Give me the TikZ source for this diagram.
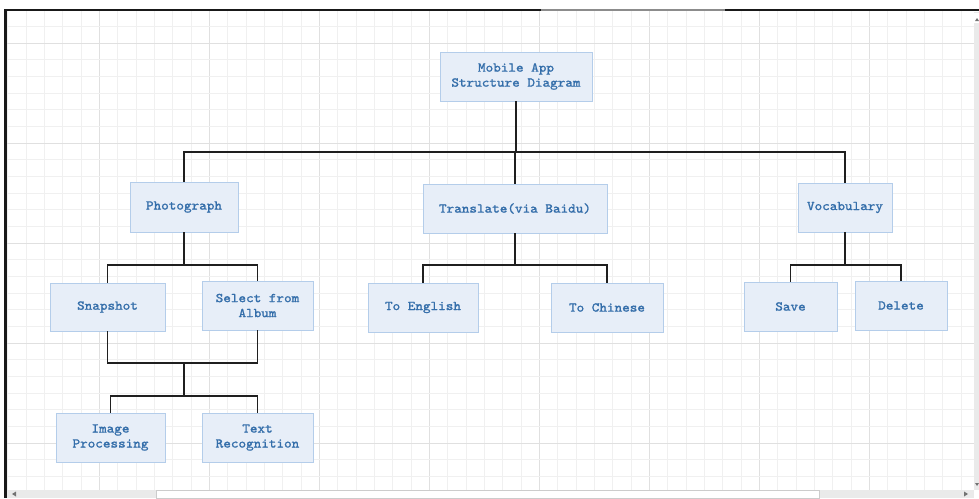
\documentclass[tikz,border=0pt]{standalone}
\usepackage{fontspec}
\newfontfamily\boxfont[FakeBold=1.3,FakeStretch=1.08]{lmmono10-regular.otf}
\definecolor{boxfill}{RGB}{231,238,248}
\definecolor{boxline}{RGB}{180,205,234}
\definecolor{boxtext}{RGB}{52,110,170}
\definecolor{gridminor}{RGB}{240,240,240}
\definecolor{gridmajor}{RGB}{224,224,224}
\definecolor{barfill}{RGB}{234,234,234}
\tikzset{
  box/.style={draw=boxline, fill=boxfill, line width=0.8pt, inner sep=0pt,
    align=center, text=boxtext, font=\boxfont\fontsize{13.4}{15}\selectfont},
  link/.style={draw=black!88, line width=1.3pt}
}
\begin{document}
\begin{tikzpicture}[x=1pt,y=-1pt]
\useasboundingbox (0,0) rectangle (979,498);
\fill[white] (0,0) rectangle (979,498);
% grid
\foreach \i in {0,...,52} {
  \pgfmathsetmacro{\xx}{7.83+\i*18.333}
  \pgfmathtruncatemacro{\mm}{mod(\i,6)}
  \ifnum\mm=5
    \draw[gridmajor, line width=0.9pt] (\xx,10) -- (\xx,490);
  \else
    \draw[gridminor, line width=0.9pt] (\xx,10) -- (\xx,490);
  \fi
}
\foreach \j in {1,...,28} {
  \pgfmathsetmacro{\yy}{9.67+\j*16.667}
  \pgfmathtruncatemacro{\mm}{mod(\j,6)}
  \ifnum\mm=2
    \draw[gridmajor, line width=0.9pt] (6,\yy) -- (974,\yy);
  \else
    \draw[gridminor, line width=0.9pt] (6,\yy) -- (974,\yy);
  \fi
}
% frame and scrollbars
\fill[barfill] (974,12) rectangle (979,490);
\fill[white] (974,13) rectangle (979,23);
\fill[barfill] (7,490) rectangle (974,498);
\fill[white, draw=black!20, line width=0.5pt] (156,490.5) rectangle (819,498);
\fill[black!55] (12,494) -- (16,491.5) -- (16,496.5) -- cycle;
\fill[black!55] (968,494) -- (964,491.5) -- (964,496.5) -- cycle;
\fill[black!55] (977,18) -- (975,21) -- (979,21) -- cycle;
\fill[black!55] (977,486) -- (975,483) -- (979,483) -- cycle;
\draw[black!90, line width=2.2pt] (4,10) -- (541,10);
\draw[black!45, line width=2.2pt] (541,10) -- (725,10);
\draw[black!90, line width=2.2pt] (725,10) -- (979,10);
\draw[black!90, line width=2.2pt] (5.5,9) -- (5.5,498);
% nodes
\node[box, minimum width=152pt, minimum height=49pt] (top) at (516,76.5) {Mobile App\\Structure Diagram};
\node[box, minimum width=108pt, minimum height=50pt] (photo) at (184,207) {Photograph};
\node[box, minimum width=184pt, minimum height=49pt] (trans) at (515,208.5) {Translate(via Baidu)};
\node[box, minimum width=94pt, minimum height=49pt] (vocab) at (845,207.5) {Vocabulary};
\node[box, minimum width=115pt, minimum height=48pt] (snap) at (107.5,307) {Snapshot};
\node[box, minimum width=111pt, minimum height=49pt] (sel) at (257.5,305.5) {Select from\\Album};
\node[box, minimum width=109pt, minimum height=49pt] (img) at (110.5,437.5) {Image\\Processing};
\node[box, minimum width=111pt, minimum height=49pt] (txt) at (257.5,437.5) {Text\\Recognition};
\node[box, minimum width=110pt, minimum height=49pt] (eng) at (423,307.5) {To English};
\node[box, minimum width=112pt, minimum height=49pt] (chi) at (607,307.5) {To Chinese};
\node[box, minimum width=93pt, minimum height=49pt] (save) at (790.5,306.5) {Save};
\node[box, minimum width=92pt, minimum height=49pt] (del) at (901,305.5) {Delete};
% bus coordinates
\coordinate (b0) at (516,152);
\coordinate (b1) at (184,265);
\coordinate (b2) at (515,265);
\coordinate (b3) at (845,265);
\coordinate (mbus) at (184,363);
\coordinate (lbus) at (184,396);
% connectors
\draw[link] (top.south) -- (b0);
\draw[link] (b0) -| (photo.north);
\draw[link] (b0) -| (trans.north);
\draw[link] (b0) -| (vocab.north);
\draw[link] (photo.south) -- (b1);
\draw[link] (b1) -| (snap.north);
\draw[link] (b1) -| (sel.north);
\draw[link] (trans.south) -- (b2);
\draw[link] (b2) -| (eng.north);
\draw[link] (b2) -| (chi.north);
\draw[link] (vocab.south) -- (b3);
\draw[link] (b3) -| (save.north);
\draw[link] (b3) -| (del.north);
\draw[link] (snap.south) |- (mbus) -| (sel.south);
\draw[link] (mbus) -- (lbus);
\draw[link] (lbus) -| (img.north);
\draw[link] (lbus) -| (txt.north);
\end{tikzpicture}
\end{document}
